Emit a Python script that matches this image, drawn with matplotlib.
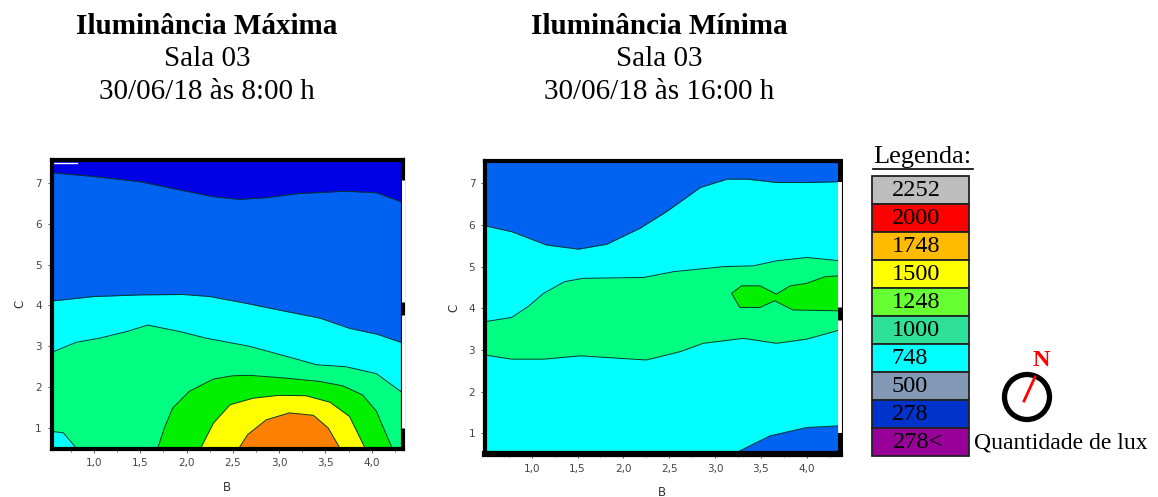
import matplotlib
matplotlib.use('Agg')
import matplotlib.pyplot as plt
from matplotlib.patches import Rectangle, Circle

W, H = 1158, 497

# colours of the bands
dark_blue = '#0000e6'
blue = '#0062f0'
cyan = '#00ffff'
light_green = '#00ff80'
green = '#00f000'
yellow = '#ffff00'
orange = '#ff8000'

# left chart, band limits
max_blue_x = [0.54, 1.0, 1.5, 1.9, 2.3, 2.57, 2.86, 3.2, 3.72, 4.05, 4.34]
max_blue_y = [7.25, 7.16, 7.03, 6.84, 6.66, 6.6, 6.64, 6.74, 6.8, 6.76, 6.52]
max_cyan_x = [0.54, 1.0, 1.5, 1.96, 2.25, 2.65, 3.04, 3.44, 3.76, 4.05, 4.34]
max_cyan_y = [4.11, 4.22, 4.26, 4.27, 4.22, 4.05, 3.87, 3.69, 3.44, 3.3, 3.08]
max_lgreen_x = [0.54, 0.81, 1.06, 1.35, 1.58, 1.93, 2.21, 2.68, 3.15, 3.4, 3.72, 4.05, 4.34]
max_lgreen_y = [2.85, 3.1, 3.2, 3.36, 3.52, 3.36, 3.2, 3.0, 2.71, 2.55, 2.5, 2.33, 1.85]
max_corner_x = [0.54, 0.54, 0.67, 0.83]
max_corner_y = [0.45, 0.92, 0.88, 0.45]
max_green_x = [1.68, 1.76, 1.85, 2.03, 2.29, 2.5, 2.68, 3.08, 3.44, 3.69, 3.9, 4.05, 4.23]
max_green_y = [0.45, 1.0, 1.49, 1.9, 2.2, 2.28, 2.29, 2.22, 2.14, 2.03, 1.81, 1.41, 0.45]
max_yellow_x = [2.14, 2.29, 2.47, 2.72, 3.0, 3.29, 3.55, 3.76, 3.94]
max_yellow_y = [0.45, 1.12, 1.57, 1.73, 1.8, 1.79, 1.63, 1.28, 0.45]
max_orange_x = [2.55, 2.66, 2.86, 3.11, 3.37, 3.53, 3.67]
max_orange_y = [0.45, 0.84, 1.2, 1.37, 1.31, 1.0, 0.45]

# right chart
min_cyan_x = [0.49, 0.78, 1.16, 1.51, 1.82, 2.18, 2.47, 2.84, 3.13, 3.35, 3.67, 4.04, 4.36]
min_cyan_y = [5.98, 5.84, 5.52, 5.42, 5.54, 5.92, 6.32, 6.9, 7.1, 7.1, 7.02, 7.02, 7.04]
min_up_x = [0.49, 0.78, 0.96, 1.13, 1.36, 1.56, 2.22, 2.55, 3.09, 3.42, 3.67, 4.0, 4.36]
min_up_y = [3.68, 3.78, 4.04, 4.36, 4.64, 4.72, 4.74, 4.88, 5.0, 5.02, 5.14, 5.22, 5.14]
min_low_x = [0.49, 0.78, 1.13, 1.53, 1.96, 2.25, 2.62, 2.87, 3.31, 3.67, 4.0, 4.36]
min_low_y = [2.88, 2.78, 2.78, 2.86, 2.8, 2.76, 2.96, 3.16, 3.28, 3.16, 3.26, 3.48]
min_green_x = [4.36, 4.2, 4.0, 3.82, 3.67, 3.49, 3.29, 3.18, 3.27, 3.49, 3.65, 3.85, 4.36]
min_green_y = [4.78, 4.76, 4.6, 4.54, 4.34, 4.54, 4.54, 4.36, 4.02, 4.02, 4.18, 3.96, 3.94]
min_corner_x = [3.22, 3.27, 3.6, 4.0, 4.36, 4.36]
min_corner_y = [0.5, 0.58, 0.94, 1.14, 1.18, 0.5]

# legend
legend_labels = ['2252', '2000', '1748', '1500', '1248', '1000', '748', '500', '278', '278<']
legend_colors = ['#bebebe', '#ff0000', '#ffbb00', '#ffff00', '#66ff33',
                 '#2fe098', '#00ffff', '#8298b4', '#0033cc', '#990099']
legend_text_x = [916, 916, 916, 916, 916, 916, 910, 910, 910, 918]

x_ticks = [1.0, 1.5, 2.0, 2.5, 3.0, 3.5, 4.0]
x_tick_labels = ['1,0', '1,5', '2,0', '2,5', '3,0', '3,5', '4,0']
y_ticks = [1, 2, 3, 4, 5, 6, 7]


def make_axes(box, xlim, ylim, bg, xpad):
    # box is left, top, right, bottom in pixels
    l, t, r, b = box
    ax = fig.add_axes([l / W, 1 - b / H, (r - l) / W, (b - t) / H])
    ax.set_xlim(xlim)
    ax.set_ylim(ylim)
    ax.set_facecolor(bg)
    ax.set_xticks(x_ticks)
    ax.set_xticklabels(x_tick_labels)
    ax.set_yticks(y_ticks)
    ax.set_xticks([0.75, 1.25, 1.75, 2.25, 2.75, 3.25, 3.75, 4.25], minor=True)
    ax.tick_params(axis='both', which='major', length=3, width=0.7, color='#555555',
                   labelsize=7.5, labelcolor='#444444', pad=4)
    ax.tick_params(axis='x', which='minor', length=2, width=0.6, color='#666666')
    ax.set_xlabel('B', fontsize=8.5, color='#333333', labelpad=xpad)
    ax.set_ylabel('C', fontsize=8.5, color='#333333', labelpad=6)
    for s in ax.spines.values():
        s.set_linewidth(3)
        s.set_color('black')
        s.set_zorder(5)
    return ax


def band(ax, xs, ys, color, base):
    ax.fill_between(xs, ys, base, color=color, lw=0)
    ax.plot(xs, ys, color='#063a2a', lw=0.7)


def blob(ax, xs, ys, color):
    ax.fill(xs, ys, facecolor=color, edgecolor='#063a2a', lw=0.7)


def white_strip(ax, x, y0, y1, lw):
    ax.plot([x, x], [y0, y1], color='white', lw=lw, zorder=6, clip_on=False,
            solid_capstyle='butt')


fig = plt.figure(figsize=(W / 100, H / 100), dpi=100)

# Maximum illuminance
ax1 = make_axes((51.5, 160, 403, 448.5), (0.541, 4.337), (0.498, 7.563), dark_blue, 9)
band(ax1, max_blue_x, max_blue_y, blue, 0.45)
band(ax1, max_cyan_x, max_cyan_y, cyan, 0.45)
band(ax1, max_lgreen_x, max_lgreen_y, light_green, 0.45)
blob(ax1, max_corner_x, max_corner_y, cyan)
blob(ax1, max_green_x, max_green_y, green)
blob(ax1, max_yellow_x, max_yellow_y, yellow)
blob(ax1, max_orange_x, max_orange_y, orange)
white_strip(ax1, 4.337, 4.08, 7.08, 2.2)
white_strip(ax1, 4.337, 1.0, 3.76, 2.2)
ax1.plot([0.57, 0.82], [7.5, 7.5], color='white', lw=1)

# Minimum illuminance
ax2 = make_axes((485, 161, 839.5, 454), (0.49, 4.358), (0.504, 7.535), blue, 9)
band(ax2, min_cyan_x, min_cyan_y, cyan, 0.45)
ax2.fill_between(min_up_x, min_up_y, 0.45, color=light_green, lw=0)
ax2.plot(min_up_x, min_up_y, color='#063a2a', lw=0.7)
band(ax2, min_low_x, min_low_y, cyan, 0.45)
blob(ax2, min_green_x, min_green_y, green)
blob(ax2, min_corner_x, min_corner_y, blue)
ax2.spines['bottom'].set_linewidth(4.5)
ax2.spines['right'].set_linewidth(3.6)
white_strip(ax2, 4.358, 1.0, 7.04, 2.8)
ax2.plot([4.358, 4.358], [3.72, 4.04], color='black', lw=3.6, zorder=7, clip_on=False,
         solid_capstyle='butt')

# pixel layer for titles and legend
ov = fig.add_axes([0, 0, 1, 1])
ov.set_xlim(0, W)
ov.set_ylim(H, 0)
ov.axis('off')
ov.patch.set_alpha(0)

serif = 'Liberation Serif'
ov.text(207, 27, 'Iluminância Máxima', family=serif, fontsize=21, fontweight='bold',
        ha='center', va='center')
ov.text(207, 59, 'Sala 03', family=serif, fontsize=21, ha='center', va='center')
ov.text(207, 92, '30/06/18 às 8:00 h', family=serif, fontsize=21, ha='center', va='center')
ov.text(659, 27, 'Iluminância Mínima', family=serif, fontsize=21, fontweight='bold',
        ha='center', va='center')
ov.text(659, 59, 'Sala 03', family=serif, fontsize=21, ha='center', va='center')
ov.text(659, 92, '30/06/18 às 16:00 h', family=serif, fontsize=21, ha='center', va='center')

ov.text(873, 157, 'Legenda:', family=serif, fontsize=19, ha='left', va='center')
ov.plot([873, 973], [169, 169], color='black', lw=1.2)

box_h = 28.0
for i, (lab, col, tx) in enumerate(zip(legend_labels, legend_colors, legend_text_x)):
    y0 = 175.5 + i * box_h
    ov.add_patch(Rectangle((871.5, y0), 97.5, box_h, facecolor=col, edgecolor='#222222', lw=1.3))
    ov.text(tx, y0 + box_h / 2 + 1, lab, family=serif, fontsize=17.5, ha='center', va='center')

ov.add_patch(Circle((1027, 397), 22.5, facecolor='none', edgecolor='black', lw=3.8))
ov.plot([1024, 1035], [401, 377], color='red', lw=2)
ov.text(1041, 360, 'N', family=serif, fontsize=17.5, fontweight='bold', color='red',
        ha='center', va='center')
ov.text(974, 443, 'Quantidade de lux', family=serif, fontsize=17, ha='left', va='center')

fig.savefig('out.png', dpi=100)
